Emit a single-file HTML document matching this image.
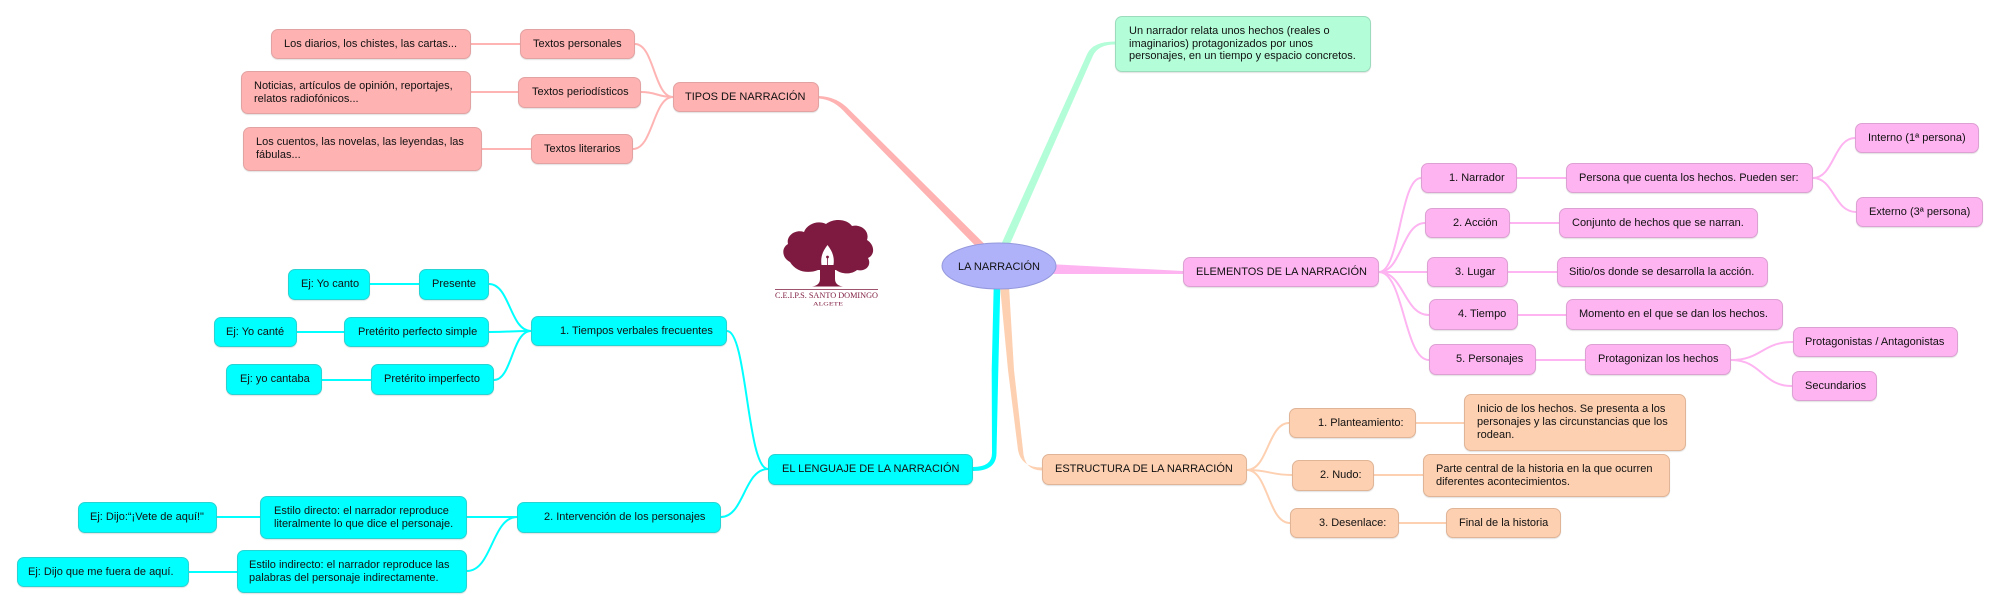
<!DOCTYPE html>
<html>
<head>
<meta charset="utf-8">
<style>
  html, body { margin:0; padding:0; }
  body { width:2000px; height:610px; overflow:hidden; background:#ffffff; position:relative;
         font-family:"Liberation Sans", Arial, sans-serif; }
  svg.conn { position:absolute; left:0; top:0; }
  .n { position:absolute; box-sizing:border-box; border:1px solid; border-radius:7px;
       display:flex; align-items:center; font-size:11px; line-height:13px; color:#111;
       white-space:nowrap; box-shadow:0 1px 1px rgba(0,0,0,0.12); }
  .pk { background:#ffb2b2; border-color:#e3a2a2; }
  .gr { background:#b3fed8; border-color:#9cdcbd; }
  .mg { background:#fdb4f1; border-color:#dda0d3; }
  .pc { background:#fdd0b1; border-color:#e0b496; }
  .cy { background:#00ffff; border-color:#27d4d4; }
</style>
</head>
<body>
<svg class="conn" width="2000" height="610" viewBox="0 0 2000 610" xmlns="http://www.w3.org/2000/svg">
  <!-- thick main connectors -->
  <path d="M987.8 247.2 L849.8 110.2 Q837 96.5 819 96 L819 98.5 Q834 99.5 846.2 113.8 L982.2 252.8 Z" fill="#ffb2b2"/>
  <path d="M999.35 248.4 L1087.3 53.8 Q1093 41.5 1115 41.5 L1115 44.5 Q1098 44.5 1092.7 56.2 L1006.65 251.6 Z" fill="#b3fed8"/>
  <path d="M1048 264 L1183 271 L1183 274 L1048 274 Z" fill="#fdb4f1"/>
  <path d="M993.7 286 L991.7 370 L992 453 Q992 467 973 467 L973 471 Q996.5 471 996.5 453 L998.3 370 L1000.3 286 Z" fill="#00ffff"/>
  <path d="M1000 286 L1008 370 L1018 450 Q1021 467.5 1042 467.5 L1042 470.5 Q1024 470.5 1023 450 L1014 370 L1009 286 Z" fill="#fdd0b1"/>

  <!-- pink thin -->
  <g fill="none" stroke="#ffb4b4" stroke-width="2">
    <path d="M673 97 C654 97 654 44 635 44"/>
    <path d="M673 97 C657 97 657 92 641 92"/>
    <path d="M673 97 C653 97 653 149 633 149"/>
    <path d="M471 44 L520 44"/>
    <path d="M471 92 L518 92"/>
    <path d="M482 149 L531 149"/>
  </g>
  <!-- magenta thin -->
  <g fill="none" stroke="#fdb4f1" stroke-width="2">
    <path d="M1379 272 C1400 272 1400 178 1421 178"/>
    <path d="M1379 272 C1402 272 1402 223 1425 223"/>
    <path d="M1379 272 L1427 272"/>
    <path d="M1379 272 C1404 272 1404 315 1429 315"/>
    <path d="M1379 272 C1404 272 1404 360 1429 360"/>
    <path d="M1517 178 L1566 178"/>
    <path d="M1510 223 L1559 223"/>
    <path d="M1508 272 L1557 272"/>
    <path d="M1518 315 L1566 315"/>
    <path d="M1536 360 L1585 360"/>
    <path d="M1813 178 C1834 178 1834 138 1855 138"/>
    <path d="M1813 178 C1834 178 1834 212 1856 212"/>
    <path d="M1731 360 C1762 360 1762 342 1793 342"/>
    <path d="M1731 360 C1762 360 1762 386 1792 386"/>
  </g>
  <!-- peach thin -->
  <g fill="none" stroke="#fdd0b1" stroke-width="2">
    <path d="M1247 470 C1268 470 1268 423 1289 423"/>
    <path d="M1247 470 C1270 470 1270 475 1292 475"/>
    <path d="M1247 470 C1268 470 1268 523 1290 523"/>
    <path d="M1416 423 L1464 423"/>
    <path d="M1374 475 L1423 475"/>
    <path d="M1399 523 L1446 523"/>
  </g>
  <!-- cyan thin -->
  <g fill="none" stroke="#00ffff" stroke-width="2">
    <path d="M768 469 C747 469 747 331 727 331"/>
    <path d="M768 469 C744 469 744 517 721 517"/>
    <path d="M531 331 C510 331 510 284 489 284"/>
    <path d="M531 331 C510 331 510 332 489 332"/>
    <path d="M531 331 C512 331 512 380 494 380"/>
    <path d="M370 284 L419 284"/>
    <path d="M297 332 L344 332"/>
    <path d="M322 380 L371 380"/>
    <path d="M517 517 L467 517"/>
    <path d="M517 517 C492 517 492 571 467 571"/>
    <path d="M217 517 L260 517"/>
    <path d="M189 572 L237 572"/>
  </g>

  <!-- central oval -->
  <ellipse cx="999" cy="266" rx="57" ry="23" fill="#b0b2f9" stroke="#9498dc" stroke-width="1"/>
  <text x="999" y="270" text-anchor="middle" font-family="Liberation Sans, Arial, sans-serif" font-size="11" fill="#111">LA NARRACIÓN</text>

  <!-- logo -->
  <g fill="#7e1a3f">
    <path d="M790 262 C782 258 781 248 788 244 C786 236 795 229 804 232 C807 224 818 220 826 224 C834 218 847 219 852 226 C861 224 870 231 867 240 C875 245 875 255 868 258 C872 265 866 272 857 270 C851 275 841 274 836 270 L818 270 C808 274 796 272 790 262 Z"/>
    <path d="M820 266 L835 266 L835 279 C835 284 839 286 843 286.5 L812 286.5 C816 286 820 284 820 279 Z"/>
  </g>
  <path d="M827.5 245 C822 252 820.5 258 821.5 265 L833.5 265 C834.5 258 833 252 827.5 245 Z" fill="#ffffff"/>
  <circle cx="827.5" cy="257" r="1.4" fill="#7e1a3f"/>
  <line x1="827.5" y1="258" x2="827.5" y2="265" stroke="#7e1a3f" stroke-width="0.8"/>
  <line x1="775" y1="289.5" x2="878" y2="289.5" stroke="#7e1a3f" stroke-width="0.8"/>
  <text x="775" y="298" font-family="Liberation Serif, serif" font-size="8" fill="#7e1a3f" textLength="103" lengthAdjust="spacingAndGlyphs">C.E.I.P.S. SANTO DOMINGO</text>
  <text x="813" y="305.5" font-family="Liberation Serif, serif" font-size="5" fill="#7e1a3f" textLength="30" lengthAdjust="spacingAndGlyphs">ALGETE</text>
</svg>

<!-- Pink: TIPOS DE NARRACIÓN -->
<div class="n pk" style="left:271px;top:29px;width:200px;height:30px;padding-left:12px;">Los diarios, los chistes, las cartas...</div>
<div class="n pk" style="left:520px;top:29px;width:115px;height:30px;padding-left:12px;">Textos personales</div>
<div class="n pk" style="left:241px;top:71px;width:230px;height:43px;padding-left:12px;">Noticias, artículos de opinión, reportajes,<br>relatos radiofónicos...</div>
<div class="n pk" style="left:518px;top:77px;width:123px;height:31px;padding-left:13px;">Textos periodísticos</div>
<div class="n pk" style="left:243px;top:127px;width:239px;height:44px;padding-left:12px;">Los cuentos, las novelas, las leyendas, las<br>fábulas...</div>
<div class="n pk" style="left:531px;top:134px;width:102px;height:30px;padding-left:12px;">Textos literarios</div>
<div class="n pk" style="left:673px;top:82px;width:146px;height:30px;padding-left:11px;">TIPOS DE NARRACIÓN</div>

<!-- Green -->
<div class="n gr" style="left:1115px;top:16px;width:256px;height:56px;padding-left:13px;line-height:12.5px;">Un narrador relata unos hechos (reales o<br>imaginarios) protagonizados por unos<br>personajes, en un tiempo y espacio concretos.</div>

<!-- Magenta: ELEMENTOS -->
<div class="n mg" style="left:1183px;top:257px;width:196px;height:30px;padding-left:12px;">ELEMENTOS DE LA NARRACIÓN</div>
<div class="n mg" style="left:1421px;top:163px;width:96px;height:30px;padding-left:27px;">1. Narrador</div>
<div class="n mg" style="left:1566px;top:163px;width:247px;height:30px;padding-left:12px;">Persona que cuenta los hechos. Pueden ser:</div>
<div class="n mg" style="left:1855px;top:123px;width:124px;height:30px;padding-left:12px;">Interno (1ª persona)</div>
<div class="n mg" style="left:1856px;top:197px;width:127px;height:30px;padding-left:12px;">Externo (3ª persona)</div>
<div class="n mg" style="left:1425px;top:208px;width:85px;height:30px;padding-left:27px;">2. Acción</div>
<div class="n mg" style="left:1559px;top:208px;width:199px;height:30px;padding-left:12px;">Conjunto de hechos que se narran.</div>
<div class="n mg" style="left:1427px;top:257px;width:81px;height:30px;padding-left:27px;">3. Lugar</div>
<div class="n mg" style="left:1557px;top:257px;width:211px;height:30px;padding-left:11px;">Sitio/os donde se desarrolla la acción.</div>
<div class="n mg" style="left:1429px;top:299px;width:89px;height:31px;padding-left:28px;">4. Tiempo</div>
<div class="n mg" style="left:1566px;top:299px;width:217px;height:31px;padding-left:12px;">Momento en el que se dan los hechos.</div>
<div class="n mg" style="left:1429px;top:344px;width:107px;height:31px;padding-left:26px;">5. Personajes</div>
<div class="n mg" style="left:1585px;top:344px;width:146px;height:31px;padding-left:12px;">Protagonizan los hechos</div>
<div class="n mg" style="left:1793px;top:327px;width:165px;height:30px;padding-left:11px;">Protagonistas / Antagonistas</div>
<div class="n mg" style="left:1792px;top:371px;width:85px;height:30px;padding-left:12px;">Secundarios</div>

<!-- Peach: ESTRUCTURA -->
<div class="n pc" style="left:1042px;top:454px;width:205px;height:31px;padding-left:12px;">ESTRUCTURA DE LA NARRACIÓN</div>
<div class="n pc" style="left:1289px;top:408px;width:127px;height:30px;padding-left:28px;">1. Planteamiento:</div>
<div class="n pc" style="left:1464px;top:394px;width:222px;height:57px;padding-left:12px;">Inicio de los hechos. Se presenta a los<br>personajes y las circunstancias que los<br>rodean.</div>
<div class="n pc" style="left:1292px;top:460px;width:82px;height:31px;padding-left:27px;">2. Nudo:</div>
<div class="n pc" style="left:1423px;top:454px;width:247px;height:43px;padding-left:12px;">Parte central de la historia en la que ocurren<br>diferentes acontecimientos.</div>
<div class="n pc" style="left:1290px;top:508px;width:109px;height:30px;padding-left:28px;">3. Desenlace:</div>
<div class="n pc" style="left:1446px;top:508px;width:115px;height:30px;padding-left:12px;">Final de la historia</div>

<!-- Cyan: EL LENGUAJE -->
<div class="n cy" style="left:768px;top:454px;width:205px;height:31px;padding-left:13px;">EL LENGUAJE DE LA NARRACIÓN</div>
<div class="n cy" style="left:531px;top:316px;width:196px;height:30px;padding-left:28px;">1. Tiempos verbales frecuentes</div>
<div class="n cy" style="left:419px;top:269px;width:70px;height:31px;padding-left:12px;">Presente</div>
<div class="n cy" style="left:288px;top:269px;width:82px;height:31px;padding-left:12px;">Ej: Yo canto</div>
<div class="n cy" style="left:344px;top:317px;width:145px;height:30px;padding-left:13px;">Pretérito perfecto simple</div>
<div class="n cy" style="left:214px;top:317px;width:83px;height:30px;padding-left:11px;">Ej: Yo canté</div>
<div class="n cy" style="left:371px;top:364px;width:123px;height:31px;padding-left:12px;">Pretérito imperfecto</div>
<div class="n cy" style="left:226px;top:364px;width:96px;height:31px;padding-left:13px;">Ej: yo cantaba</div>
<div class="n cy" style="left:517px;top:502px;width:204px;height:31px;padding-left:26px;">2. Intervención de los personajes</div>
<div class="n cy" style="left:260px;top:496px;width:207px;height:43px;padding-left:13px;">Estilo directo: el narrador reproduce<br>literalmente lo que dice el personaje.</div>
<div class="n cy" style="left:78px;top:502px;width:139px;height:31px;padding-left:11px;">Ej: Dijo:“¡Vete de aquí!"</div>
<div class="n cy" style="left:237px;top:550px;width:230px;height:43px;padding-left:11px;">Estilo indirecto: el narrador reproduce las<br>palabras del personaje indirectamente.</div>
<div class="n cy" style="left:17px;top:557px;width:172px;height:30px;padding-left:10px;">Ej: Dijo que me fuera de aquí.</div>
</body>
</html>
